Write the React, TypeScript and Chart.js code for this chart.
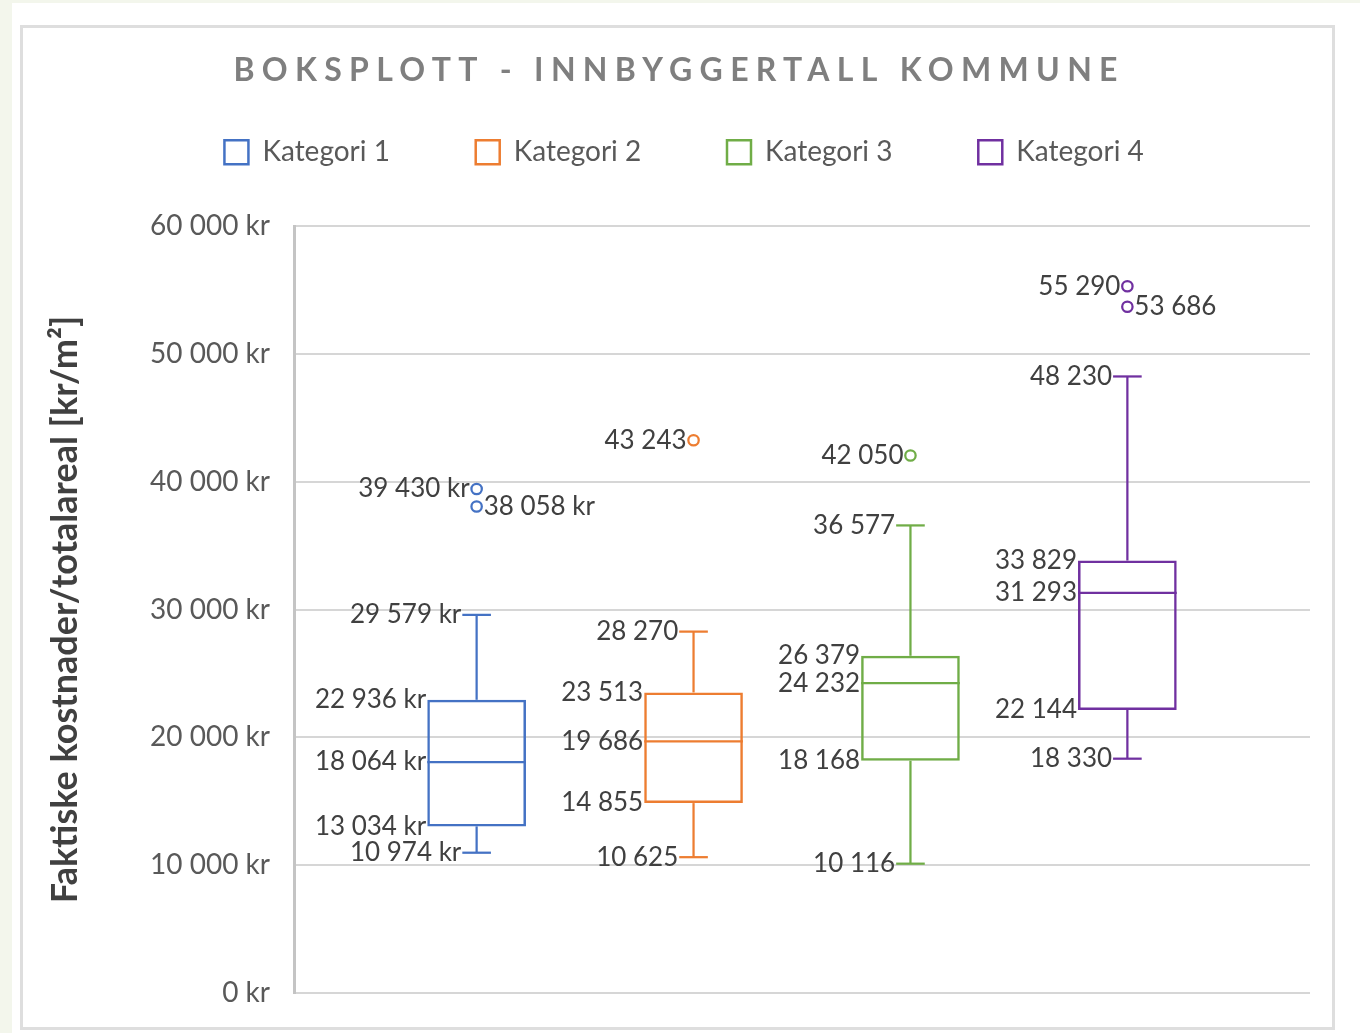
import React, { useEffect, useRef } from 'react';
import { Chart, registerables } from 'chart.js';

Chart.register(...registerables);

// ---------- data ----------
const groupLabel = ['Kategori'];
const categories = ['Kategori 1', 'Kategori 2', 'Kategori 3', 'Kategori 4'];
const colors = ['#4472C4', '#ED7D31', '#70AD47', '#7030A0'];
const whiskerMin = [10974, 10625, 10116, 18330];
const quartile1 = [13034, 14855, 18168, 22144];
const medians = [18064, 19686, 24232, 31293];
const quartile3 = [22936, 23513, 26379, 33829];
const whiskerMax = [29579, 28270, 36577, 48230];
const outliers = [[39430, 38058], [43243], [42050], [55290, 53686]];
const outlierLabelSide = [['left', 'right'], ['left'], ['left'], ['left', 'right']];
const labelSuffix = [' kr', '', '', ''];
const yMin = 0;
const yMax = 60000;
const yStep = 10000;
const chartTitle = 'BOKSPLOTT - INNBYGGERTALL KOMMUNE';
const yAxisTitle = 'Faktiske kostnader/totalareal [kr/m²]';

const fmt = (v: number) => String(Math.round(v)).replace(/\B(?=(\d{3})+(?!\d))/g, ' ');

const FONT = 'Lato';
const PAD_LEFT = 35.2;

const legendGap = {
  id: 'legendGap',
  beforeInit(chart: any) {
    const legend = chart.legend;
    if (!legend) return;
    const orig = legend.fit;
    legend.fit = function () {
      orig.call(this);
      this.height += 49.7;
    };
  },
};

const titlePlugin = {
  id: 'spacedTitle',
  afterDraw(chart: any) {
    const ctx = chart.ctx as CanvasRenderingContext2D;
    ctx.save();
    ctx.font = `bold 32px ${FONT}`;
    ctx.fillStyle = '#7f7f7f';
    ctx.textAlign = 'center';
    ctx.textBaseline = 'middle';
    (ctx as any).letterSpacing = '0px';
    const w0 = ctx.measureText(chartTitle).width;
    const spacing = Math.max(0, (884 - w0) / (chartTitle.length - 1));
    (ctx as any).letterSpacing = spacing + 'px';
    ctx.fillText(chartTitle, chart.width / 2 - 2 + spacing / 2, 43);
    ctx.restore();
  },
};

const boxPlotPlugin = {
  id: 'boxPlotExtras',
  afterDatasetsDraw(chart: any) {
    const ctx = chart.ctx as CanvasRenderingContext2D;
    const y = chart.scales.y;
    chart.data.datasets.forEach((_ds: any, i: number) => {
      const meta = chart.getDatasetMeta(i);
      const bar = meta.data[0];
      if (!bar) return;
      const { x, width } = bar.getProps(['x', 'width'], true);
      const left = x - width / 2;
      const right = x + width / 2;
      const cap = width * 0.145;
      const col = colors[i];
      const yMinP = y.getPixelForValue(whiskerMin[i]);
      const yQ1 = y.getPixelForValue(quartile1[i]);
      const yMed = y.getPixelForValue(medians[i]);
      const yQ3 = y.getPixelForValue(quartile3[i]);
      const yMaxP = y.getPixelForValue(whiskerMax[i]);

      ctx.save();
      ctx.strokeStyle = col;
      ctx.lineWidth = 2.25;
      const line = (x1: number, y1: number, x2: number, y2: number) => {
        ctx.beginPath();
        ctx.moveTo(x1, y1);
        ctx.lineTo(x2, y2);
        ctx.stroke();
      };
      line(x, yQ3, x, yMaxP);
      line(x, yQ1, x, yMinP);
      line(x - cap, yMaxP, x + cap, yMaxP);
      line(x - cap, yMinP, x + cap, yMinP);
      line(left, yMed, right, yMed);

      outliers[i].forEach((v) => {
        const py = y.getPixelForValue(v);
        ctx.beginPath();
        ctx.arc(x, py, 5.2, 0, Math.PI * 2);
        ctx.fillStyle = '#ffffff';
        ctx.fill();
        ctx.lineWidth = 2.25;
        ctx.stroke();
      });

      ctx.font = `26px ${FONT}`;
      ctx.fillStyle = '#404040';
      ctx.textBaseline = 'middle';
      ctx.textAlign = 'right';
      const sfx = labelSuffix[i];
      ctx.fillText(fmt(quartile3[i]) + sfx, left - 1, yQ3);
      ctx.fillText(fmt(medians[i]) + sfx, left - 1, yMed);
      ctx.fillText(fmt(quartile1[i]) + sfx, left - 1, yQ1);
      ctx.fillText(fmt(whiskerMax[i]) + sfx, x - cap - 1, yMaxP);
      ctx.fillText(fmt(whiskerMin[i]) + sfx, x - cap - 1, yMinP);
      outliers[i].forEach((v, k) => {
        const py = y.getPixelForValue(v);
        if (outlierLabelSide[i][k] === 'left') {
          ctx.textAlign = 'right';
          ctx.fillText(fmt(v) + sfx, x - 7, py);
        } else {
          ctx.textAlign = 'left';
          ctx.fillText(fmt(v) + sfx, x + 7, py);
        }
      });
      ctx.restore();
    });
  },
};

export default function App() {
  const canvasRef = useRef<HTMLCanvasElement | null>(null);

  useEffect(() => {
    const canvas = canvasRef.current;
    if (!canvas) return;
    const chart = new Chart(canvas, {
      type: 'bar',
      data: {
        labels: groupLabel,
        datasets: categories.map((name, i) => ({
          label: name,
          data: [[quartile1[i], quartile3[i]]] as any,
          backgroundColor: 'rgba(255,255,255,0)',
          borderColor: colors[i],
          borderWidth: 2.5,
          borderSkipped: false,
          categoryPercentage: 0.854,
          barPercentage: 0.455,
        })),
      },
      options: {
        responsive: false,
        animation: false,
        devicePixelRatio: 1,
        events: [],
        layout: { padding: { top: 24.5, right: 22, bottom: 34, left: PAD_LEFT } },
        plugins: {
          tooltip: { enabled: false },
          title: { display: false },
          legend: {
            display: true,
            position: 'top',
            labels: {
              boxWidth: 24,
              boxHeight: 24,
              padding: 85.8,
              color: '#595959',
              font: { family: FONT, size: 28 },
              generateLabels: (c: any) =>
                c.data.datasets.map((ds: any, i: number) => ({
                  text: ds.label,
                  fillStyle: '#ffffff',
                  strokeStyle: colors[i],
                  lineWidth: 2.5,
                  hidden: false,
                  datasetIndex: i,
                  fontColor: '#595959',
                })),
            },
          },
        },
        scales: {
          x: { display: false },
          y: {
            min: yMin,
            max: yMax,
            ticks: {
              stepSize: yStep,
              padding: 0,
              color: '#595959',
              font: { family: FONT, size: 28 },
              callback: (v: any) => fmt(Number(v)) + ' kr',
            },
            grid: {
              color: '#d6d6d6',
              lineWidth: 2,
              drawTicks: true,
              tickLength: 24,
              tickColor: 'rgba(0,0,0,0)',
            },
            border: { display: true, color: '#c4c4c4', width: 3 },
            title: {
              display: true,
              text: yAxisTitle,
              color: '#404040',
              font: { family: FONT, size: 36, weight: 'bold' },
              padding: { top: -14.8, bottom: 0 },
            },
            afterFit: (s: any) => {
              s.width = 271 - PAD_LEFT;
            },
          },
        },
      } as any,
      plugins: [legendGap, boxPlotPlugin, titlePlugin],
    });
    return () => chart.destroy();
  }, []);

  return (
    <div style={{ position: 'fixed', inset: 0, background: '#f3f6ec' }}>
      <div style={{ position: 'absolute', left: 12, top: 3, right: 0, bottom: 0, background: '#ffffff' }} />
      <div
        style={{
          position: 'absolute',
          left: 20,
          top: 25,
          width: 1315,
          height: 1005,
          border: '3px solid #dedede',
          boxSizing: 'border-box',
          background: '#ffffff',
        }}
      >
        <canvas ref={canvasRef} width={1309} height={999} style={{ display: 'block' }} />
      </div>
    </div>
  );
}
